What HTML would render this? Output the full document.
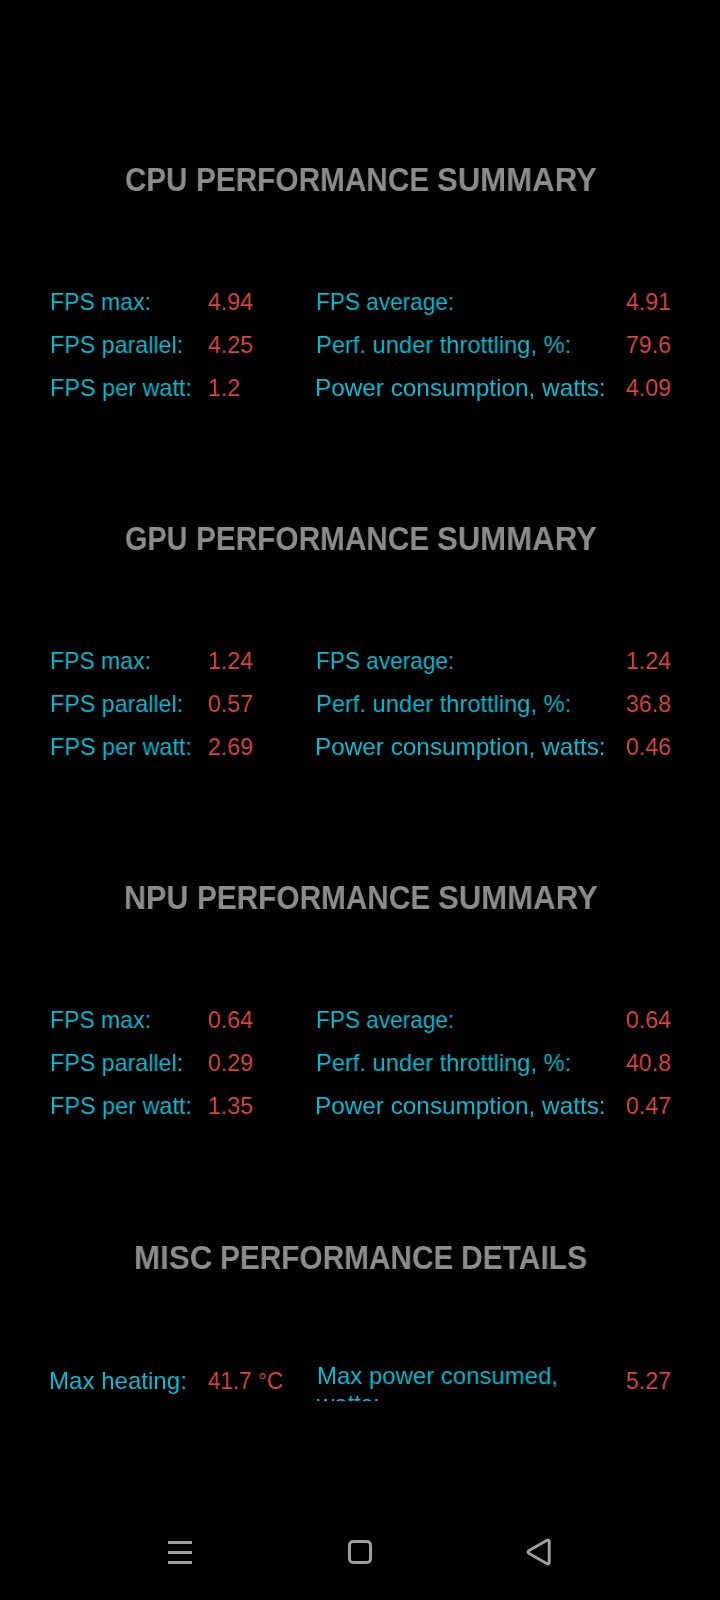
<!DOCTYPE html>
<html><head><meta charset="utf-8"><style>
html,body{margin:0;padding:0;background:#000;width:720px;height:1600px;overflow:hidden}
body{position:relative;font-family:"Liberation Sans",sans-serif}
.t{position:absolute;white-space:nowrap;transform-origin:0 0;will-change:transform}
</style></head><body>
<div class="t" id="CPU_h0" style="left:125.10px;top:159.57px;font-size:33.0px;line-height:40px;color:#8c8c8c;font-weight:bold;transform:scaleX(0.8970);">CPU</div>
<div class="t" id="CPU_h1" style="left:196.20px;top:159.57px;font-size:33.0px;line-height:40px;color:#8c8c8c;font-weight:bold;transform:scaleX(0.9020);">PERFORMANCE</div>
<div class="t" id="CPU_h2" style="left:437.06px;top:159.57px;font-size:33.0px;line-height:40px;color:#8c8c8c;font-weight:bold;transform:scaleX(0.9440);">SUMMARY</div>
<div class="t" id="CPU_l0" style="left:49.61px;top:287.18px;font-size:24.0px;line-height:29px;color:#00bcd4;transform:scaleX(0.9574);">FPS max:</div>
<div class="t" id="CPU_lv0" style="left:207.82px;top:287.18px;font-size:24.0px;line-height:29px;color:#de4242;transform:scaleX(0.9696);">4.94</div>
<div class="t" id="CPU_r0" style="left:315.65px;top:287.18px;font-size:24.0px;line-height:29px;color:#00bcd4;transform:scaleX(0.9413);">FPS average:</div>
<div class="t" id="CPU_rv0" style="left:626.02px;top:287.18px;font-size:24.0px;line-height:29px;color:#de4242;transform:scaleX(0.9696);">4.91</div>
<div class="t" id="CPU_l1" style="left:49.58px;top:330.18px;font-size:24.0px;line-height:29px;color:#00bcd4;transform:scaleX(0.9684);">FPS parallel:</div>
<div class="t" id="CPU_lv1" style="left:207.82px;top:330.18px;font-size:24.0px;line-height:29px;color:#de4242;transform:scaleX(0.9696);">4.25</div>
<div class="t" id="CPU_r1" style="left:315.54px;top:330.18px;font-size:24.0px;line-height:29px;color:#00bcd4;transform:scaleX(0.9859);">Perf. under throttling, %:</div>
<div class="t" id="CPU_rv1" style="left:626.02px;top:330.18px;font-size:24.0px;line-height:29px;color:#de4242;transform:scaleX(0.9696);">79.6</div>
<div class="t" id="CPU_l2" style="left:49.56px;top:373.18px;font-size:24.0px;line-height:29px;color:#00bcd4;transform:scaleX(0.9759);">FPS per watt:</div>
<div class="t" id="CPU_lv2" style="left:207.82px;top:373.18px;font-size:24.0px;line-height:29px;color:#de4242;transform:scaleX(0.9696);">1.2</div>
<div class="t" id="CPU_r2" style="left:315.47px;top:373.18px;font-size:24.0px;line-height:29px;color:#00bcd4;transform:scaleX(1.0133);">Power consumption, watts:</div>
<div class="t" id="CPU_rv2" style="left:626.02px;top:373.18px;font-size:24.0px;line-height:29px;color:#de4242;transform:scaleX(0.9696);">4.09</div>
<div class="t" id="GPU_h0" style="left:125.13px;top:518.57px;font-size:33.0px;line-height:40px;color:#8c8c8c;font-weight:bold;transform:scaleX(0.8710);">GPU</div>
<div class="t" id="GPU_h1" style="left:196.20px;top:518.57px;font-size:33.0px;line-height:40px;color:#8c8c8c;font-weight:bold;transform:scaleX(0.9020);">PERFORMANCE</div>
<div class="t" id="GPU_h2" style="left:437.06px;top:518.57px;font-size:33.0px;line-height:40px;color:#8c8c8c;font-weight:bold;transform:scaleX(0.9440);">SUMMARY</div>
<div class="t" id="GPU_l0" style="left:49.61px;top:646.18px;font-size:24.0px;line-height:29px;color:#00bcd4;transform:scaleX(0.9574);">FPS max:</div>
<div class="t" id="GPU_lv0" style="left:207.82px;top:646.18px;font-size:24.0px;line-height:29px;color:#de4242;transform:scaleX(0.9696);">1.24</div>
<div class="t" id="GPU_r0" style="left:315.65px;top:646.18px;font-size:24.0px;line-height:29px;color:#00bcd4;transform:scaleX(0.9413);">FPS average:</div>
<div class="t" id="GPU_rv0" style="left:626.02px;top:646.18px;font-size:24.0px;line-height:29px;color:#de4242;transform:scaleX(0.9696);">1.24</div>
<div class="t" id="GPU_l1" style="left:49.58px;top:689.18px;font-size:24.0px;line-height:29px;color:#00bcd4;transform:scaleX(0.9684);">FPS parallel:</div>
<div class="t" id="GPU_lv1" style="left:207.82px;top:689.18px;font-size:24.0px;line-height:29px;color:#de4242;transform:scaleX(0.9696);">0.57</div>
<div class="t" id="GPU_r1" style="left:315.54px;top:689.18px;font-size:24.0px;line-height:29px;color:#00bcd4;transform:scaleX(0.9859);">Perf. under throttling, %:</div>
<div class="t" id="GPU_rv1" style="left:626.02px;top:689.18px;font-size:24.0px;line-height:29px;color:#de4242;transform:scaleX(0.9696);">36.8</div>
<div class="t" id="GPU_l2" style="left:49.56px;top:732.18px;font-size:24.0px;line-height:29px;color:#00bcd4;transform:scaleX(0.9759);">FPS per watt:</div>
<div class="t" id="GPU_lv2" style="left:207.82px;top:732.18px;font-size:24.0px;line-height:29px;color:#de4242;transform:scaleX(0.9696);">2.69</div>
<div class="t" id="GPU_r2" style="left:315.47px;top:732.18px;font-size:24.0px;line-height:29px;color:#00bcd4;transform:scaleX(1.0133);">Power consumption, watts:</div>
<div class="t" id="GPU_rv2" style="left:626.02px;top:732.18px;font-size:24.0px;line-height:29px;color:#de4242;transform:scaleX(0.9696);">0.46</div>
<div class="t" id="NPU_h0" style="left:124.15px;top:877.57px;font-size:33.0px;line-height:40px;color:#8c8c8c;font-weight:bold;transform:scaleX(0.9258);">NPU</div>
<div class="t" id="NPU_h1" style="left:197.20px;top:877.57px;font-size:33.0px;line-height:40px;color:#8c8c8c;font-weight:bold;transform:scaleX(0.9020);">PERFORMANCE</div>
<div class="t" id="NPU_h2" style="left:438.06px;top:877.57px;font-size:33.0px;line-height:40px;color:#8c8c8c;font-weight:bold;transform:scaleX(0.9440);">SUMMARY</div>
<div class="t" id="NPU_l0" style="left:49.61px;top:1005.18px;font-size:24.0px;line-height:29px;color:#00bcd4;transform:scaleX(0.9574);">FPS max:</div>
<div class="t" id="NPU_lv0" style="left:207.82px;top:1005.18px;font-size:24.0px;line-height:29px;color:#de4242;transform:scaleX(0.9696);">0.64</div>
<div class="t" id="NPU_r0" style="left:315.65px;top:1005.18px;font-size:24.0px;line-height:29px;color:#00bcd4;transform:scaleX(0.9413);">FPS average:</div>
<div class="t" id="NPU_rv0" style="left:626.02px;top:1005.18px;font-size:24.0px;line-height:29px;color:#de4242;transform:scaleX(0.9696);">0.64</div>
<div class="t" id="NPU_l1" style="left:49.58px;top:1048.18px;font-size:24.0px;line-height:29px;color:#00bcd4;transform:scaleX(0.9684);">FPS parallel:</div>
<div class="t" id="NPU_lv1" style="left:207.82px;top:1048.18px;font-size:24.0px;line-height:29px;color:#de4242;transform:scaleX(0.9696);">0.29</div>
<div class="t" id="NPU_r1" style="left:315.54px;top:1048.18px;font-size:24.0px;line-height:29px;color:#00bcd4;transform:scaleX(0.9859);">Perf. under throttling, %:</div>
<div class="t" id="NPU_rv1" style="left:626.02px;top:1048.18px;font-size:24.0px;line-height:29px;color:#de4242;transform:scaleX(0.9696);">40.8</div>
<div class="t" id="NPU_l2" style="left:49.56px;top:1091.18px;font-size:24.0px;line-height:29px;color:#00bcd4;transform:scaleX(0.9759);">FPS per watt:</div>
<div class="t" id="NPU_lv2" style="left:207.82px;top:1091.18px;font-size:24.0px;line-height:29px;color:#de4242;transform:scaleX(0.9696);">1.35</div>
<div class="t" id="NPU_r2" style="left:315.47px;top:1091.18px;font-size:24.0px;line-height:29px;color:#00bcd4;transform:scaleX(1.0133);">Power consumption, watts:</div>
<div class="t" id="NPU_rv2" style="left:626.02px;top:1091.18px;font-size:24.0px;line-height:29px;color:#de4242;transform:scaleX(0.9696);">0.47</div>
<div class="t" id="MISC_h0" style="left:134.10px;top:1237.57px;font-size:33.0px;line-height:40px;color:#8c8c8c;font-weight:bold;transform:scaleX(0.9494);">MISC</div>
<div class="t" id="MISC_h1" style="left:220.29px;top:1237.57px;font-size:33.0px;line-height:40px;color:#8c8c8c;font-weight:bold;transform:scaleX(0.9027);">PERFORMANCE</div>
<div class="t" id="MISC_h2" style="left:461.48px;top:1237.57px;font-size:33.0px;line-height:40px;color:#8c8c8c;font-weight:bold;transform:scaleX(0.9089);">DETAILS</div>
<div class="t" id="MISC_l" style="left:49.49px;top:1366.18px;font-size:24.0px;line-height:29px;color:#00bcd4;transform:scaleX(1.0030);">Max heating:</div>
<div class="t" id="MISC_lv" style="left:208.28px;top:1366.18px;font-size:24.0px;line-height:29px;color:#de4242;transform:scaleX(0.9367);">41.7 °C</div>
<div class="t" id="MISC_rv" style="left:626.02px;top:1366.18px;font-size:24.0px;line-height:29px;color:#de4242;transform:scaleX(0.9696);">5.27</div>
<div style="position:absolute;left:0;top:0;width:720px;height:1401px;overflow:hidden"><div class="t" id="MISC_r" style="left:317.20px;top:1361.68px;font-size:24.0px;line-height:28px;color:#00bcd4;transform:scaleX(0.9979)">Max power consumed,<br>watts:</div></div>
<svg style="position:absolute;left:0;top:1520px" width="720" height="64" viewBox="0 1520 720 64">
 <g fill="#9e9e9e">
  <rect x="168" y="1541" width="24" height="3"/>
  <rect x="168" y="1551" width="24" height="3"/>
  <rect x="168" y="1561" width="24" height="3"/>
 </g>
 <g stroke="#9e9e9e" stroke-width="3" fill="none">
  <rect x="349.5" y="1541.5" width="21" height="21" rx="3.5"/>
  <path d="M546.60 1540.50 L529.20 1550.50 Q526.60 1552.00 529.20 1553.50 L546.60 1563.50 Q549.20 1565.00 549.20 1562.00 L549.20 1542.00 Q549.20 1539.00 546.60 1540.50 Z" stroke-linejoin="round"/>
 </g>
</svg>
</body></html>
